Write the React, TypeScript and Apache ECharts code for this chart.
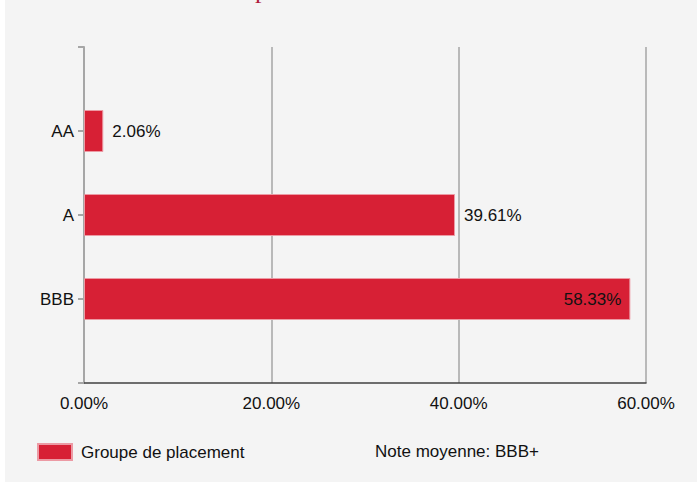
import React, { useEffect, useRef } from "react";
import * as echarts from "echarts";

const categories = ["", "AA", "A", "BBB", ""];
const values: (number | null)[] = [null, 2.06, 39.61, 58.33, null];
const labelPositions = ["right", "right", "right", "insideRight", "right"];
const xTicks = [0, 20, 40, 60];
const legendName = "Groupe de placement";
const noteText = "Note moyenne: BBB+";
const titleText = "Répartition du crédit";

const FONT = '"Liberation Sans", Arial, sans-serif';

export default function App() {
  const ref = useRef<HTMLDivElement>(null);
  useEffect(() => {
    document.body.style.margin = "0";
    const chart = echarts.init(ref.current!, null, { renderer: "svg" });
    chart.setOption({
      animation: false,
      backgroundColor: "#ffffff",
      graphic: [
        {
          type: "rect",
          z: -10,
          silent: true,
          shape: { x: 5, y: 0, width: 692, height: 482 },
          style: { fill: "#f4f4f4" },
        },
        {
          type: "text",
          x: 226,
          y: -11,
          style: {
            text: titleText,
            font: '26px "Liberation Serif", "Times New Roman", serif',
            fill: "#b01c3c",
            verticalAlign: "middle",
            align: "left",
          },
        },
        {
          type: "text",
          x: 375,
          y: 451,
          style: {
            text: noteText,
            font: "17px " + FONT,
            fill: "#111111",
            verticalAlign: "middle",
          },
        },
      ],
      legend: {
        left: 37,
        top: 443,
        padding: 0,
        itemWidth: 34,
        itemHeight: 16,
        icon: "rect",
        textStyle: { fontFamily: FONT, fontSize: 17, color: "#111111", padding: [0, 0, 0, 4] },
        data: [legendName],
      },
      grid: { left: 84, right: 51, top: 47, bottom: 99, containLabel: false },
      xAxis: {
        type: "value",
        min: 0,
        max: 60,
        interval: 20,
        axisLine: { show: true, lineStyle: { color: "#404040", width: 1.5 } },
        axisTick: { show: false },
        splitLine: { show: true, lineStyle: { color: "#a6a6a6", width: 1.5 } },
        axisLabel: {
          margin: 12,
          fontFamily: FONT,
          fontSize: 17,
          color: "#111111",
          formatter: (v: number) => v.toFixed(2) + "%",
          customValues: xTicks,
        },
      },
      yAxis: {
        type: "category",
        inverse: true,
        boundaryGap: false,
        data: categories,
        axisLine: { show: true, lineStyle: { color: "#a6a6a6", width: 2 } },
        axisTick: { show: true, length: 6, lineStyle: { color: "#a6a6a6", width: 2 } },
        splitLine: { show: false },
        axisLabel: { margin: 10, fontFamily: FONT, fontSize: 17, color: "#111111" },
      },
      series: [
        {
          name: legendName,
          type: "bar",
          barWidth: 42,
          itemStyle: { color: "#d72035", borderColor: "#ec9aa4", borderWidth: 1 },
          data: values.map((v, i) => ({
            value: v,
            label: {
              show: v !== null,
              position: labelPositions[i],
              distance: 9,
              fontFamily: FONT,
              fontSize: 17,
              color: "#111111",
              formatter: (p: any) => Number(p.value).toFixed(2) + "%",
            },
          })),
        },
      ],
    });
    return () => chart.dispose();
  }, []);
  return (
    <div
      ref={ref}
      style={{ position: "absolute", left: 0, top: 0, width: 697, height: 482 }}
    />
  );
}
